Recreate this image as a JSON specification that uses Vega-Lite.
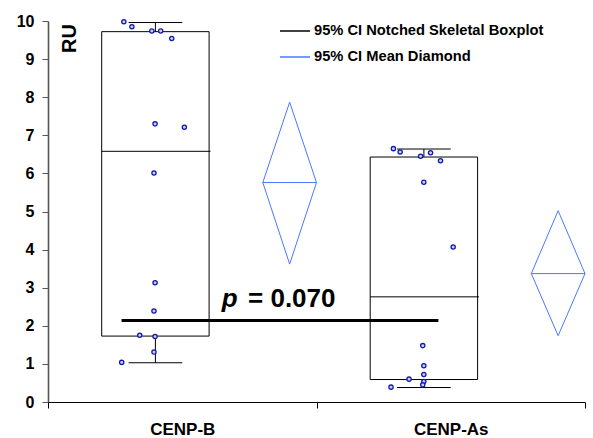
{
  "$schema": "https://vega.github.io/schema/vega-lite/v6.json",
  "width": 537,
  "height": 381,
  "autosize": {"type": "none"},
  "padding": {"left": 48, "top": 21, "right": 8, "bottom": 36},
  "background": "white",
  "config": {
    "view": {"stroke": null},
    "font": "Liberation Sans",
    "axis": {"grid": false, "labelFont": "Liberation Sans", "labelFontWeight": "bold", "labelColor": "black"},
    "axisX": {"labelAngle": 0, "labelFontSize": 17, "labelPadding": 13, "tickBand": "extent", "tickSize": 6, "tickColor": "black", "domainColor": "black", "domainWidth": 1},
    "axisY": {"tickCount": 10, "labelOverlap": false, "labelFlush": false, "labelFontSize": 16, "labelPadding": 8, "tickSize": 6, "tickColor": "#555555", "domainColor": "#555555", "domainWidth": 1.6,
              "titleFont": "Liberation Sans", "titleFontWeight": "bold", "titleFontSize": 20, "titleAngle": 270, "titleX": 21, "titleY": 17, "titleAlign": "center", "titleBaseline": "middle"}
  },
  "datasets": {
    "points": [
      {"group": "CENP-B", "value": 9.98, "spread": -0.118},
      {"group": "CENP-B", "value": 9.85, "spread": -0.088},
      {"group": "CENP-B", "value": 9.74, "spread": -0.014},
      {"group": "CENP-B", "value": 9.74, "spread": 0.019},
      {"group": "CENP-B", "value": 9.54, "spread": 0.060},
      {"group": "CENP-B", "value": 7.30, "spread": -0.002},
      {"group": "CENP-B", "value": 7.21, "spread": 0.107},
      {"group": "CENP-B", "value": 6.01, "spread": -0.006},
      {"group": "CENP-B", "value": 3.13, "spread": -0.002},
      {"group": "CENP-B", "value": 2.39, "spread": -0.006},
      {"group": "CENP-B", "value": 1.75, "spread": -0.059},
      {"group": "CENP-B", "value": 1.72, "spread": -0.002},
      {"group": "CENP-B", "value": 1.31, "spread": -0.006},
      {"group": "CENP-B", "value": 1.04, "spread": -0.126},
      {"group": "CENP-As", "value": 6.65, "spread": -0.114},
      {"group": "CENP-As", "value": 6.56, "spread": -0.089},
      {"group": "CENP-As", "value": 6.45, "spread": -0.013},
      {"group": "CENP-As", "value": 6.54, "spread": 0.024},
      {"group": "CENP-As", "value": 6.33, "spread": 0.061},
      {"group": "CENP-As", "value": 5.77, "spread": -0.001},
      {"group": "CENP-As", "value": 4.07, "spread": 0.108},
      {"group": "CENP-As", "value": 1.48, "spread": -0.005},
      {"group": "CENP-As", "value": 0.95, "spread": -0.001},
      {"group": "CENP-As", "value": 0.72, "spread": -0.001},
      {"group": "CENP-As", "value": 0.60, "spread": -0.056},
      {"group": "CENP-As", "value": 0.54, "spread": -0.001},
      {"group": "CENP-As", "value": 0.45, "spread": -0.005},
      {"group": "CENP-As", "value": 0.39, "spread": -0.123}
    ],
    "boxes": [
      {"group": "CENP-B", "lower": 1.03, "q1": 1.73, "median": 6.58, "q3": 9.72, "upper": 9.96},
      {"group": "CENP-As", "lower": 0.38, "q1": 0.59, "median": 2.76, "q3": 6.43, "upper": 6.64}
    ],
    "diamonds": [
      {"group": "CENP-B", "lo": 3.62, "mean": 5.76, "hi": 7.87},
      {"group": "CENP-As", "lo": 1.74, "mean": 3.37, "hi": 5.02}
    ],
    "test": [
      {"from": "CENP-B", "to": "CENP-As", "p": 0.07}
    ]
  },
  "layer": [
    {
      "data": {"name": "boxes"},
      "mark": {"type": "rect", "fill": "transparent", "strokeWidth": 1},
      "encoding": {
        "x": {"field": "group", "type": "nominal", "bandPosition": 0.2, "title": null,
              "scale": {"domain": ["CENP-B", "CENP-As"], "paddingInner": 0, "paddingOuter": 0}},
        "x2": {"field": "group", "bandPosition": 0.6},
        "y": {"field": "q1", "type": "quantitative", "title": "RU",
              "scale": {"domain": [0, 10], "nice": false}},
        "y2": {"field": "q3"},
        "stroke": {"datum": "95% CI Notched Skeletal Boxplot", "type": "nominal",
                   "scale": {"domain": ["95% CI Notched Skeletal Boxplot", "95% CI Mean Diamond"], "range": ["black", "#4a78ff"]},
                   "legend": {"title": null, "orient": "none", "legendX": 231, "legendY": -6, "padding": 0, "symbolType": "stroke", "symbolSize": 900, "symbolStrokeWidth": 1.5, "labelFont": "Liberation Sans", "labelFontWeight": "bold", "labelFontSize": 14.7, "labelLimit": 320, "labelColor": "black", "labelOffset": 3, "rowPadding": 3}}
      }
    },
    {
      "data": {"name": "boxes"},
      "mark": {"type": "rule", "strokeWidth": 1},
      "encoding": {
        "x": {"field": "group", "type": "nominal", "bandPosition": 0.2, "title": null},
        "x2": {"field": "group", "bandPosition": 0.605},
        "y": {"field": "median", "type": "quantitative", "title": "RU"},
        "stroke": {"datum": "95% CI Notched Skeletal Boxplot", "type": "nominal"}
      }
    },
    {
      "data": {"name": "boxes"},
      "mark": {"type": "rule", "strokeWidth": 1},
      "encoding": {
        "x": {"field": "group", "type": "nominal", "bandPosition": 0.4, "title": null},
        "y": {"field": "q3", "type": "quantitative", "title": "RU"},
        "y2": {"field": "upper"},
        "stroke": {"datum": "95% CI Notched Skeletal Boxplot", "type": "nominal"}
      }
    },
    {
      "data": {"name": "boxes"},
      "mark": {"type": "rule", "strokeWidth": 1},
      "encoding": {
        "x": {"field": "group", "type": "nominal", "bandPosition": 0.4, "title": null},
        "y": {"field": "lower", "type": "quantitative", "title": "RU"},
        "y2": {"field": "q1"},
        "stroke": {"datum": "95% CI Notched Skeletal Boxplot", "type": "nominal"}
      }
    },
    {
      "data": {"name": "boxes"},
      "mark": {"type": "rule", "strokeWidth": 1},
      "encoding": {
        "x": {"field": "group", "type": "nominal", "bandPosition": 0.3, "title": null},
        "x2": {"field": "group", "bandPosition": 0.5},
        "y": {"field": "upper", "type": "quantitative", "title": "RU"},
        "stroke": {"datum": "95% CI Notched Skeletal Boxplot", "type": "nominal"}
      }
    },
    {
      "data": {"name": "boxes"},
      "mark": {"type": "rule", "strokeWidth": 1},
      "encoding": {
        "x": {"field": "group", "type": "nominal", "bandPosition": 0.3, "title": null},
        "x2": {"field": "group", "bandPosition": 0.5},
        "y": {"field": "lower", "type": "quantitative", "title": "RU"},
        "stroke": {"datum": "95% CI Notched Skeletal Boxplot", "type": "nominal"}
      }
    },
    {
      "data": {"name": "diamonds"},
      "mark": {"type": "rule", "strokeWidth": 1},
      "encoding": {
        "x": {"field": "group", "type": "nominal", "bandPosition": 0.8, "title": null},
        "x2": {"field": "group", "bandPosition": 0.9},
        "y": {"field": "mean", "type": "quantitative", "title": "RU"},
        "y2": {"field": "hi"},
        "stroke": {"datum": "95% CI Mean Diamond", "type": "nominal"}
      }
    },
    {
      "data": {"name": "diamonds"},
      "mark": {"type": "rule", "strokeWidth": 1},
      "encoding": {
        "x": {"field": "group", "type": "nominal", "bandPosition": 0.9, "title": null},
        "x2": {"field": "group", "bandPosition": 1.0},
        "y": {"field": "hi", "type": "quantitative", "title": "RU"},
        "y2": {"field": "mean"},
        "stroke": {"datum": "95% CI Mean Diamond", "type": "nominal"}
      }
    },
    {
      "data": {"name": "diamonds"},
      "mark": {"type": "rule", "strokeWidth": 1},
      "encoding": {
        "x": {"field": "group", "type": "nominal", "bandPosition": 1.0, "title": null},
        "x2": {"field": "group", "bandPosition": 0.9},
        "y": {"field": "mean", "type": "quantitative", "title": "RU"},
        "y2": {"field": "lo"},
        "stroke": {"datum": "95% CI Mean Diamond", "type": "nominal"}
      }
    },
    {
      "data": {"name": "diamonds"},
      "mark": {"type": "rule", "strokeWidth": 1},
      "encoding": {
        "x": {"field": "group", "type": "nominal", "bandPosition": 0.9, "title": null},
        "x2": {"field": "group", "bandPosition": 0.8},
        "y": {"field": "lo", "type": "quantitative", "title": "RU"},
        "y2": {"field": "mean"},
        "stroke": {"datum": "95% CI Mean Diamond", "type": "nominal"}
      }
    },
    {
      "data": {"name": "diamonds"},
      "mark": {"type": "rule", "strokeWidth": 1},
      "encoding": {
        "x": {"field": "group", "type": "nominal", "bandPosition": 0.8, "title": null},
        "x2": {"field": "group", "bandPosition": 1.0},
        "y": {"field": "mean", "type": "quantitative", "title": "RU"},
        "stroke": {"datum": "95% CI Mean Diamond", "type": "nominal"}
      }
    },
    {
      "data": {"name": "test"},
      "mark": {"type": "rule", "strokeWidth": 3, "color": "black"},
      "encoding": {
        "x": {"field": "from", "type": "nominal", "bandPosition": 0.274, "title": null},
        "x2": {"field": "to", "bandPosition": 0.454},
        "y": {"datum": 2.14, "type": "quantitative", "title": "RU"}
      }
    },
    {
      "data": {"name": "test"},
      "mark": {"type": "text", "text": "p", "font": "Liberation Sans", "fontStyle": "italic", "fontWeight": "bold", "fontSize": 26, "align": "right", "baseline": "alphabetic", "color": "black"},
      "encoding": {
        "x": {"field": "from", "type": "nominal", "bandPosition": 0.706, "title": null},
        "y": {"datum": 2.5, "type": "quantitative", "title": "RU"}
      }
    },
    {
      "data": {"name": "test"},
      "mark": {"type": "text", "text": "= 0.070", "font": "Liberation Sans", "fontWeight": "bold", "fontSize": 26, "align": "left", "baseline": "alphabetic", "color": "black"},
      "encoding": {
        "x": {"field": "from", "type": "nominal", "bandPosition": 0.745, "title": null},
        "y": {"datum": 2.5, "type": "quantitative", "title": "RU"}
      }
    },
    {
      "data": {"name": "points"},
      "mark": {"type": "point", "shape": "circle", "size": 18, "filled": false, "fill": "#c8d0ff", "stroke": "#1018a8", "strokeWidth": 1.3, "opacity": 1},
      "encoding": {
        "x": {"field": "group", "type": "nominal", "title": null},
        "xOffset": {"field": "spread", "type": "quantitative", "scale": {"domain": [-0.4, 0.6], "range": [0, 269]}},
        "y": {"field": "value", "type": "quantitative", "title": "RU"}
      }
    }
  ]
}
